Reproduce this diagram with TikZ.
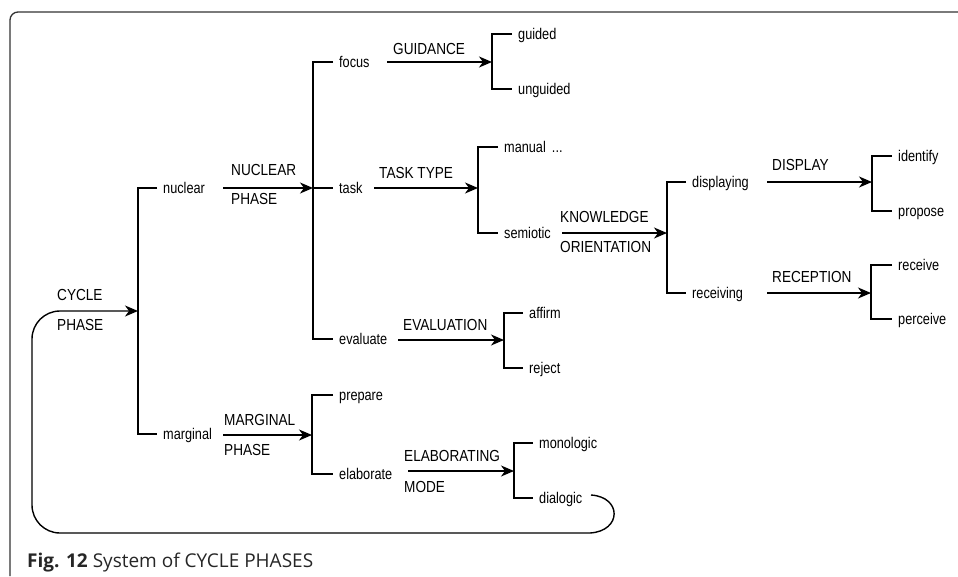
\documentclass[tikz,border=0pt]{standalone}
\usepackage{fontspec}
\setmainfont[FakeStretch=0.85]{Liberation Sans}
\newfontfamily\termfont[FakeStretch=0.82]{Liberation Sans}
\newfontfamily\captionfont{Open Sans}
\usetikzlibrary{arrows.meta}

\begin{document}
\begin{tikzpicture}[x=1pt, y=-1pt,
  line/.style={line width=1.3pt, black},
  arr/.style={line width=1.4pt, -{Stealth[length=13pt, width=11pt, inset=4pt]}},
  term/.style={anchor=west, inner xsep=6pt, inner ysep=0pt,
    font=\termfont\fontsize{15.5}{17}\selectfont, text height=11pt, text depth=0pt},
  feature/.style={anchor=west, inner sep=0pt,
    font=\fontsize{16}{18}\selectfont, text height=11.5pt, text depth=0pt}]

\useasboundingbox (0,0) rectangle (958,576);

% frame (top and left sides only)
\draw[line width=1.3pt, black!80, rounded corners=8pt] (10,576) -- (10,12) -- (958,12);

% ---------- CYCLE PHASE ----------
\coordinate (b1) at (138,311);
\node[term] (nuclear)  at (157,188) {nuclear};
\node[term] (marginal) at (157,434) {marginal};
\draw[line] (nuclear.west) -| (b1) |- (marginal.west);
\node[feature] (fCycA) at (57,295) {CYCLE};
\node[feature] (fCycB) at (57,325) {PHASE};

% ---------- NUCLEAR PHASE ----------
\coordinate (a2) at (223,188);
\coordinate (b2) at (313,188);
\draw[arr] (a2) -- (b2);
\node[feature] (fNucA) at (231,170) {NUCLEAR};
\node[feature] (fNucB) at (231,199) {PHASE};
\node[term] (focus)    at (333,62)  {focus};
\node[term] (task)     at (333,188) {task};
\node[term] (evaluate) at (333,339) {evaluate};
\draw[line] (focus.west) -| (b2) |- (evaluate.west);
\draw[line] (b2) -- (task.west);

% ---------- MARGINAL PHASE ----------
\coordinate (a3) at (223,435);
\coordinate (b3) at (312,435);
\draw[arr] (a3) -- (b3);
\node[feature] (fMarA) at (224,420) {MARGINAL};
\node[feature] (fMarB) at (224,450) {PHASE};
\node[term] (prepare)   at (333,395) {prepare};
\node[term] (elaborate) at (333,474) {elaborate};
\draw[line] (prepare.west) -| (b3) |- (elaborate.west);

% ---------- GUIDANCE ----------
\coordinate (a4) at (387,62);
\coordinate (b4) at (492,62);
\draw[arr] (a4) -- (b4);
\node[feature] (fGui) at (393,49) {GUIDANCE};
\node[term] (guided)   at (512,34) {guided};
\node[term] (unguided) at (512,89) {unguided};
\draw[line] (guided.west) -| (b4) |- (unguided.west);

% ---------- TASK TYPE ----------
\coordinate (a5) at (374,188);
\coordinate (b5) at (478,188);
\draw[arr] (a5) -- (b5);
\node[feature] (fTask) at (379,173) {TASK TYPE};
\node[term] (manual)   at (498,147) {manual \,...};
\node[term] (semiotic) at (498,233) {semiotic};
\draw[line] (manual.west) -| (b5) |- (semiotic.west);

% ---------- EVALUATION ----------
\coordinate (a6) at (398,340);
\coordinate (b6) at (504,340);
\draw[arr] (a6) -- (b6);
\node[feature] (fEval) at (403,325) {EVALUATION};
\node[term] (affirm) at (523,313) {affirm};
\node[term] (reject) at (523,368) {reject};
\draw[line] (affirm.west) -| (b6) |- (reject.west);

% ---------- KNOWLEDGE ORIENTATION ----------
\coordinate (a7) at (562,233);
\coordinate (b7) at (667,233);
\draw[arr] (a7) -- (b7);
\node[feature] (fKnoA) at (560,217) {KNOWLEDGE};
\node[feature] (fKnoB) at (560,247) {ORIENTATION};
\node[term] (displaying) at (686,182) {displaying};
\node[term] (receiving)  at (686,293) {receiving};
\draw[line] (displaying.west) -| (b7) |- (receiving.west);

% ---------- DISPLAY ----------
\coordinate (a8) at (767,182);
\coordinate (b8) at (872,182);
\draw[arr] (a8) -- (b8);
\node[feature] (fDis) at (772,165) {DISPLAY};
\node[term] (identify) at (892,156) {identify};
\node[term] (propose)  at (892,211) {propose};
\draw[line] (identify.west) -| (b8) |- (propose.west);

% ---------- RECEPTION ----------
\coordinate (a9) at (767,293);
\coordinate (b9) at (871,293);
\draw[arr] (a9) -- (b9);
\node[feature] (fRec) at (772,277) {RECEPTION};
\node[term] (receive)  at (892,265) {receive};
\node[term] (perceive) at (892,319) {perceive};
\draw[line] (receive.west) -| (b9) |- (perceive.west);

% ---------- ELABORATING MODE ----------
\coordinate (a10) at (408,471);
\coordinate (b10) at (514,471);
\draw[arr] (a10) -- (b10);
\node[feature] (fElaA) at (404,456) {ELABORATING};
\node[feature] (fElaB) at (404,487) {MODE};
\node[term] (monologic) at (533,443) {monologic};
\node[term] (dialogic)  at (533,498) {dialogic};
\draw[line] (monologic.west) -| (b10) |- (dialogic.west);

% ---------- recursion loop back to CYCLE PHASE ----------
\coordinate (loop) at (591,495);
\draw[arr]
  (loop) .. controls (622,497) and (622,531) .. (590,533)
  [rounded corners=28pt] -- (32,533) -- (32,311) -- (b1);

% caption
\node[anchor=base west, inner sep=0pt, text=black!85,
  font=\captionfont\fontsize{19}{22}\selectfont] (caption) at (27,567)
  {\textbf{Fig. 12} System of CYCLE PHASES};

\end{tikzpicture}
\end{document}
